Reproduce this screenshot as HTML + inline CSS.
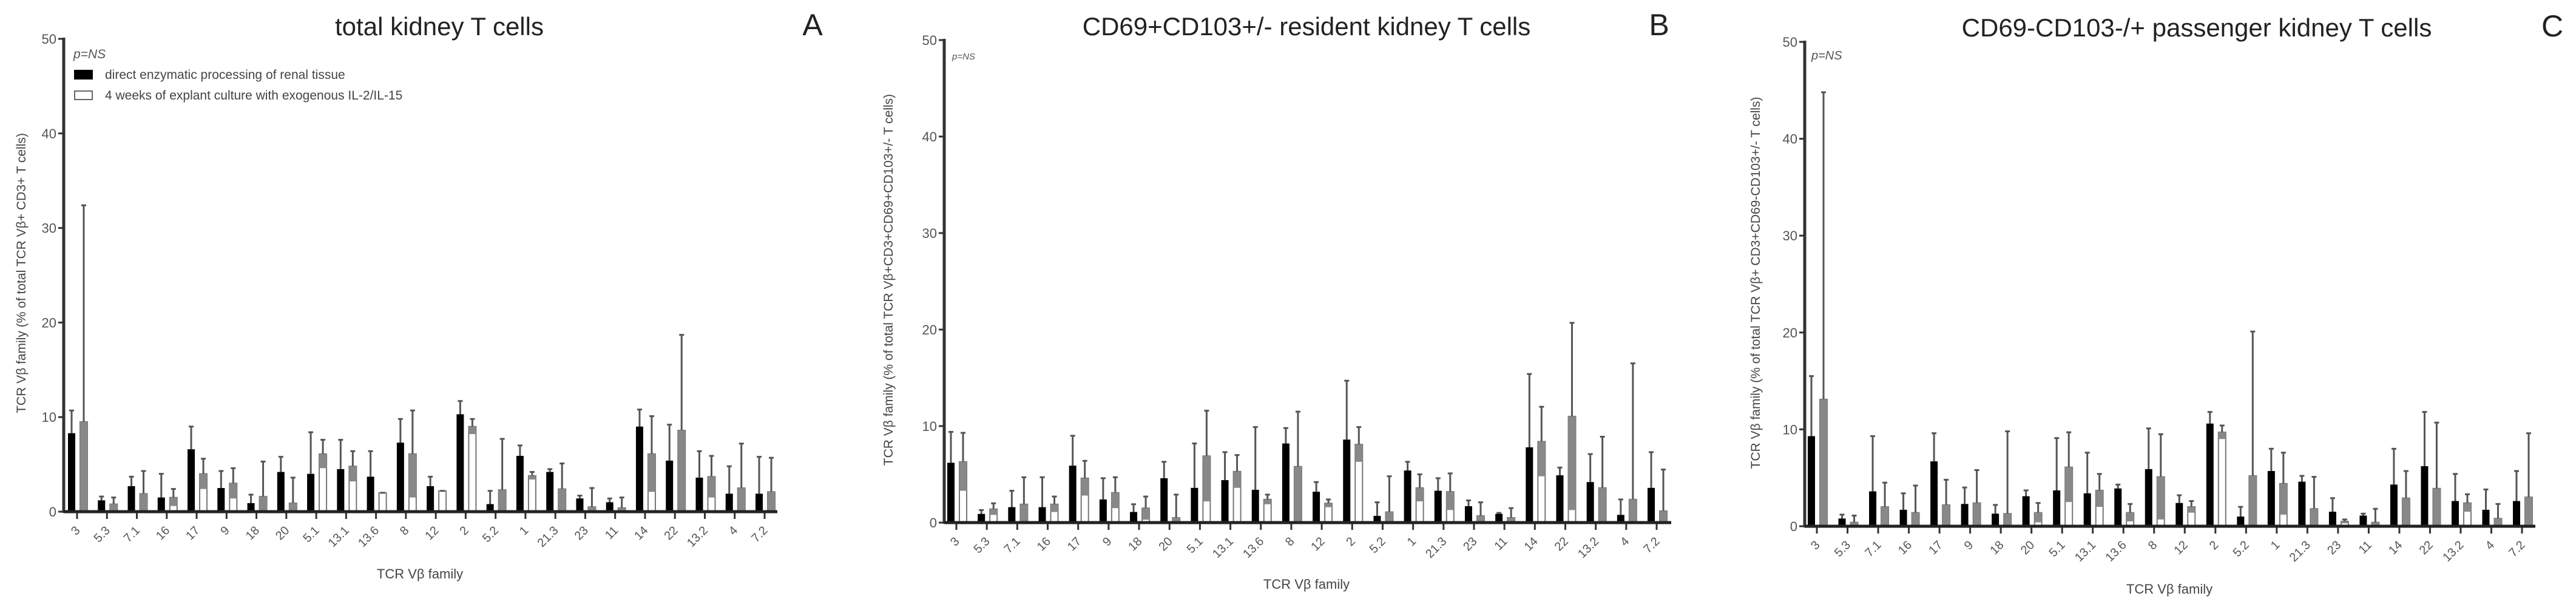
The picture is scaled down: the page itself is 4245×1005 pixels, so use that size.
<!DOCTYPE html>
<html><head><meta charset="utf-8"><style>
html,body{margin:0;padding:0;background:#fff;}
svg{display:block;font-family:"Liberation Sans",sans-serif;}
</style></head>
<body>
<svg id="fig" width="4245" height="1005" viewBox="0 0 4245 1005"></svg>
<script>
const categories = ["3","5.3","7.1","16","17","9","18","20","5.1","13.1","13.6","8","12","2","5.2","1","21.3","23","11","14","22","13.2","4","7.2"];
const yTicks = [0,10,20,30,40,50];
const aDirect = [8.3,1.2,2.7,1.5,6.6,2.5,0.9,4.2,4.0,4.5,3.7,7.3,2.7,10.3,0.8,5.9,4.2,1.4,1.0,9.0,5.4,3.6,1.9,1.9];
const aDirectErr = [10.7,1.6,3.7,4.0,9.0,4.3,1.8,5.8,8.4,7.6,6.4,9.8,3.7,11.7,2.2,7.0,4.5,1.7,1.4,10.8,9.2,6.4,4.8,5.8];
const aCulture = [9.5,0.8,1.9,1.5,4.0,3.0,1.6,0.9,6.1,4.8,2.0,6.1,2.2,9.0,2.3,3.8,2.4,0.5,0.4,6.1,8.6,3.7,2.5,2.1];
const aCultureErr = [32.4,1.5,4.3,2.4,5.6,4.6,5.3,3.6,7.6,6.4,2.0,10.7,2.2,9.8,7.7,4.2,5.1,2.5,1.5,10.1,18.7,5.9,7.2,5.7];
const bDirect = [6.2,0.9,1.6,1.6,5.9,2.4,1.1,4.6,3.6,4.4,3.4,8.2,3.2,8.6,0.7,5.4,3.3,1.7,0.9,7.8,4.9,4.2,0.8,3.6];
const bDirectErr = [9.4,1.3,3.3,4.7,9.0,4.6,1.9,6.3,8.2,7.3,9.9,9.8,4.2,14.7,2.1,6.3,4.6,2.3,1.0,15.4,5.7,7.1,2.4,7.3];
const bCulture = [6.3,1.4,1.9,1.9,4.6,3.1,1.5,0.5,6.9,5.3,2.4,5.8,2.0,8.1,1.1,3.6,3.2,0.7,0.5,8.4,11.0,3.6,2.4,1.2];
const bCultureErr = [9.3,2.0,4.7,2.7,6.4,4.7,2.7,2.9,11.6,7.0,2.9,11.5,2.4,9.9,4.8,5.0,5.1,2.1,1.5,12.0,20.7,8.9,16.5,5.5];
const cDirect = [9.3,0.8,3.6,1.7,6.7,2.3,1.3,3.1,3.7,3.4,3.9,5.9,2.4,10.6,1.0,5.7,4.6,1.5,1.1,4.3,6.2,2.6,1.7,2.6];
const cDirectErr = [15.5,1.2,9.3,3.4,9.6,4.0,2.2,3.7,9.1,7.6,4.3,10.1,3.2,11.8,2.0,8.0,5.2,2.9,1.3,8.0,11.8,5.4,3.8,5.7];
const cCulture = [13.1,0.4,2.0,1.4,2.2,2.4,1.3,1.4,6.1,3.7,1.4,5.1,2.0,9.7,5.2,4.4,1.8,0.5,0.4,2.9,3.9,2.4,0.8,3.0];
const cCultureErr = [44.8,1.1,4.5,4.2,4.8,5.8,9.8,2.4,9.7,5.4,2.3,9.5,2.6,10.4,20.1,7.6,5.1,0.7,1.8,5.7,10.7,3.3,2.3,9.6];

const NS="http://www.w3.org/2000/svg";
const svg=document.getElementById('fig');
function mk(tag,attrs,parent,text){const e=document.createElementNS(NS,tag);for(const k in attrs)e.setAttribute(k,attrs[k]);if(text!==undefined)e.textContent=text;(parent||svg).appendChild(e);return e;}

const panels=[
 {id:'a',title:'total kidney T cells',letter:'A',x0:105,x1:1281,y0:843,y50:64,c0:127,c23:1260,tcx:724,tcy:58,lx:1339,
  ylab:'TCR V\u03b2 family (% of total TCR V\u03b2+ CD3+ T cells)',ylx:42,yly:450,xlx:692,xly:953,d:aDirect,de:aDirectErr,c:aCulture,ce:aCultureErr,
  pns:[121,96,21]},
 {id:'b',title:'CD69+CD103+/- resident kidney T cells',letter:'B',x0:1556,x1:2754,y0:861,y50:66,c0:1576,c23:2730,tcx:2153,tcy:58,lx:2734,
  ylab:'TCR V\u03b2 family (% of total TCR V\u03b2+CD3+CD69+CD103+/- T cells)',ylx:1471,yly:461,xlx:2153,xly:970,d:bDirect,de:bDirectErr,c:bCulture,ce:bCultureErr,
  pns:[1569,98,15]},
 {id:'c',title:'CD69-CD103-/+ passenger kidney T cells',letter:'C',x0:2974,x1:4178,y0:867,y50:69,c0:2994,c23:4156,tcx:3620,tcy:60,lx:4206,
  ylab:'TCR V\u03b2 family (% of total TCR V\u03b2+ CD3+CD69-CD103+/- T cells)',ylx:2900,yly:466,xlx:3575,xly:978,d:cDirect,de:cDirectErr,c:cCulture,ce:cCultureErr,
  pns:[2985,98,20]}
];

panels.forEach(p=>{
  const g=mk('g',{});
  
  
  const yS=v=>p.y0-(p.y0-p.y50)*v/50;
  const step=(p.c23-p.c0)/(categories.length-1);
  const xS=i=>p.c0+i*step;
  const t=mk('text',{x:p.tcx,y:p.tcy,'text-anchor':'middle','font-size':42,fill:'#222'},g,p.title);
  
  
  const l=mk('text',{x:p.lx,y:p.tcy,'text-anchor':'middle','font-size':50,fill:'#222'},g,p.letter);
  
  
  const yl=mk('text',{x:p.ylx,y:p.yly,'text-anchor':'middle','font-size':21,fill:'#444',transform:`rotate(-90 ${p.ylx} ${p.yly})`},g,p.ylab);
  
  
  const xl=mk('text',{x:p.xlx,y:p.xly,'text-anchor':'middle','font-size':22,fill:'#444'},g,'TCR V\u03b2 family');
  
  
  const pn=mk('text',{x:p.pns[0],y:p.pns[1],'font-size':p.pns[2],fill:'#555','font-style':'italic'},g,'p=NS');
  
  
  // y ticks
  yTicks.forEach(v=>{
    const y=yS(v);
    mk('line',{x1:p.x0-9,x2:p.x0,y1:y,y2:y,stroke:'#333','stroke-width':3},g);
    const tl=mk('text',{x:p.x0-12,y:y+8,'text-anchor':'end','font-size':22,fill:'#555'},g,String(v));
    
    
  });
  // bars
  categories.forEach((cat,i)=>{
    const c=xS(i);
    // direct (black)
    const dv=p.d[i],de=p.de[i];
    mk('line',{x1:c-9,x2:c-9,y1:yS(dv),y2:yS(de),stroke:'#555','stroke-width':3},g);
    mk('line',{x1:c-13,x2:c-5,y1:yS(de),y2:yS(de),stroke:'#555','stroke-width':3},g);
    const b=mk('rect',{x:c-15,y:yS(dv),width:12,height:p.y0-yS(dv),fill:'#000'},g);
    
    
    // culture (white with grey)
    const cv=p.c[i],ce=p.ce[i];
    const lo=Math.max(0,2*cv-ce);
    const w=mk('rect',{x:c+5,y:yS(cv),width:12,height:p.y0-yS(cv),fill:'#fff',stroke:'#777','stroke-width':2},g);
    
    
    mk('rect',{x:c+5,y:yS(cv),width:12,height:yS(lo)-yS(cv),fill:'#888'},g);
    mk('line',{x1:c+11,x2:c+11,y1:yS(cv),y2:yS(ce),stroke:'#555','stroke-width':3},g);
    mk('line',{x1:c+7,x2:c+15,y1:yS(ce),y2:yS(ce),stroke:'#555','stroke-width':3},g);
    // tick + label
    mk('line',{x1:c,x2:c,y1:p.y0,y2:p.y0+12,stroke:'#333','stroke-width':3},g);
    const lx=c+6,ly=p.y0+32;
    const tl=mk('text',{x:lx,y:ly,'text-anchor':'end','font-size':20,fill:'#555',transform:`rotate(-45 ${lx} ${ly})`},g,cat);
    
    
  });
  // axes
  const ya=mk('line',{x1:p.x0,x2:p.x0,y1:p.y50-2,y2:p.y0+2,stroke:'#333','stroke-width':5},g);
  
  
  const xa=mk('line',{x1:p.x0,x2:p.x1,y1:p.y0,y2:p.y0,stroke:'#222','stroke-width':5},g);
  
  
});

// legend (panel A)
const lg=mk('g',{});


const s1=mk('rect',{x:122,y:115,width:31,height:16,fill:'#000'},lg);


const t1=mk('text',{x:173,y:130,'font-size':21,fill:'#444'},lg,'direct enzymatic processing of renal tissue');


const s2=mk('rect',{x:123,y:150,width:29,height:14,fill:'#fff',stroke:'#666','stroke-width':2},lg);


const t2=mk('text',{x:173,y:164,'font-size':21,fill:'#444'},lg,'4 weeks of explant culture with exogenous IL-2/IL-15');


</script>
</body></html>
